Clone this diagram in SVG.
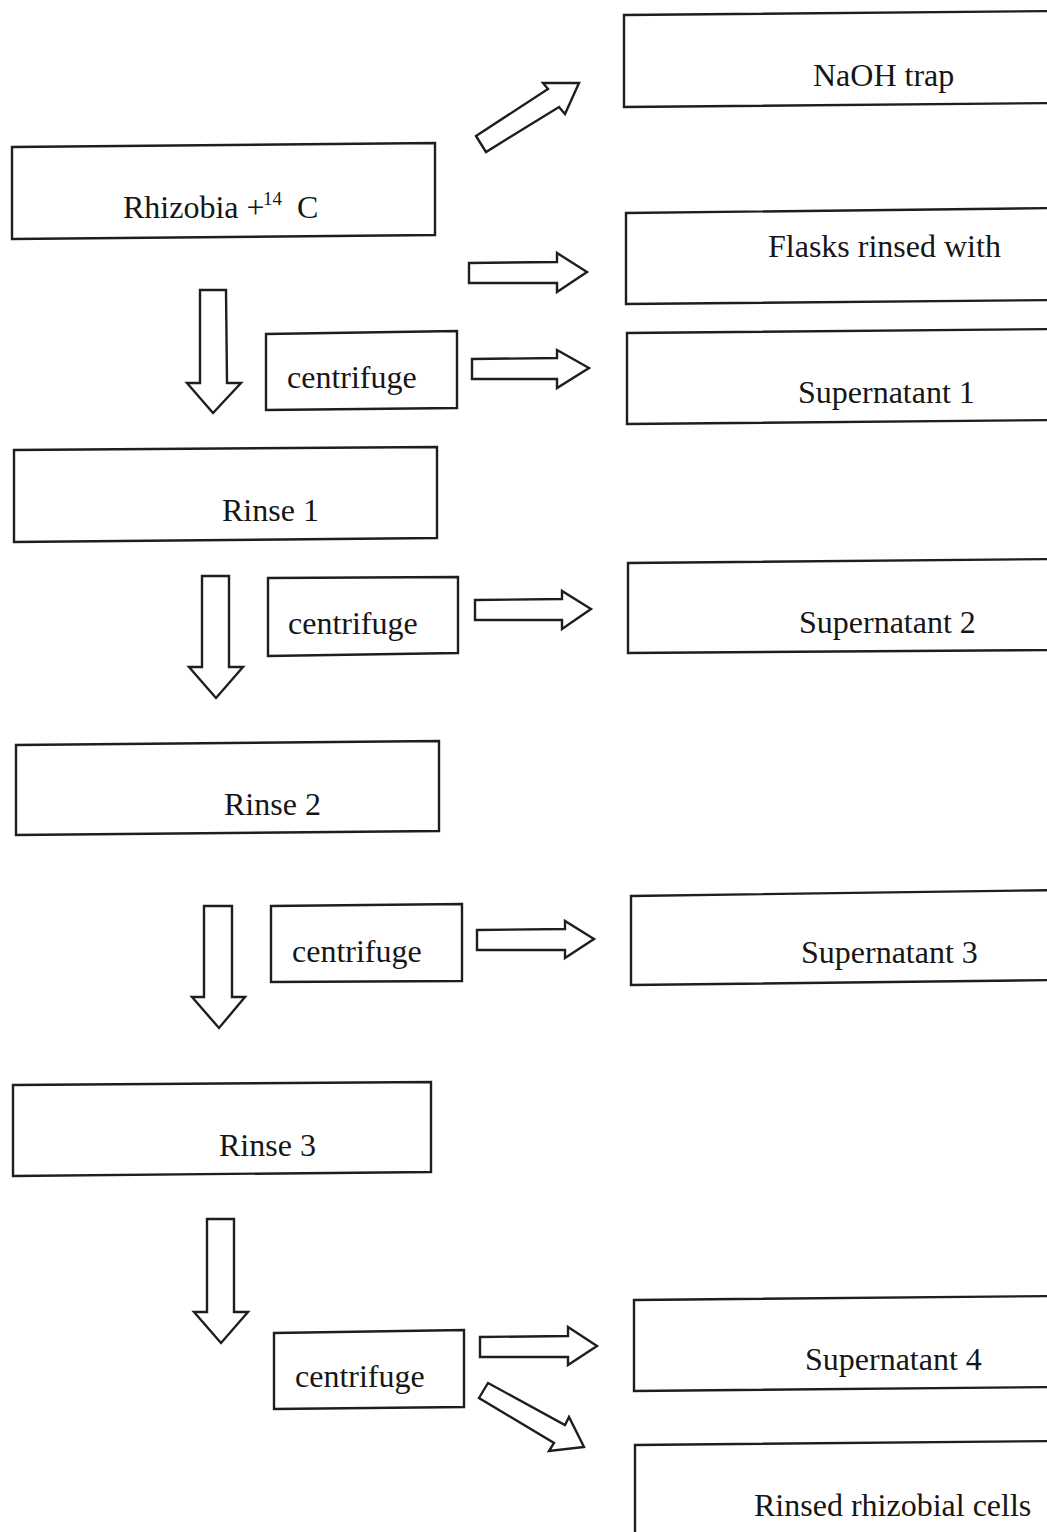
<svg xmlns="http://www.w3.org/2000/svg" width="1047" height="1532" viewBox="0 0 1047 1532">
  <style>
    .box { fill: #ffffff; stroke: #1e1e1e; stroke-width: 2.4; stroke-linejoin: miter; }
    .arrow { fill: #ffffff; stroke: #1e1e1e; stroke-width: 2.4; stroke-linejoin: miter; }
    .label { font-family: "Liberation Serif", "Times New Roman", serif; font-size: 32px; fill: #161616; }
    .sup { font-size: 19px; }
  </style>
  <rect x="0" y="0" width="1047" height="1532" fill="#ffffff"/>

  <!-- block arrows between steps -->
  <g id="connectors">
    <!-- source to NaOH trap (diagonal up) -->
    <polygon class="arrow" points="476,136 548,89 543,83 579,83 565,114 559,107 486,152"/>
    <!-- source to flask rinse -->
    <polygon class="arrow" points="469,263 557,262 557,253 587,272 557,292 557,283 469,283"/>
    <!-- downward flow -->
    <polygon class="arrow" points="200,290 226,290 227,383 241,383 213,413 187,383 200,383"/>
    <polygon class="arrow" points="202,576 229,576 229,667 243,667 216,698 189,667 202,667"/>
    <polygon class="arrow" points="204,906 232,906 232,997 245,997 219,1028 192,997 204,997"/>
    <polygon class="arrow" points="207,1219 234,1219 234,1312 248,1312 221,1343 194,1312 207,1312"/>
    <!-- centrifuge to supernatants -->
    <polygon class="arrow" points="472,359 557,358 557,350 589,368 557,388 557,379 472,379"/>
    <polygon class="arrow" points="475,600 562,599 562,591 591,609 562,629 562,620 475,620"/>
    <polygon class="arrow" points="477,930 565,929 565,921 594,939 565,958 565,950 477,950"/>
    <polygon class="arrow" points="480,1337 568,1336 568,1327 597,1346 568,1365 568,1357 480,1357"/>
    <!-- final centrifuge to rinsed cells (diagonal down) -->
    <polygon class="arrow" points="488,1383 565,1425 569,1417 584,1447 549,1451 554,1443 479,1398"/>
  </g>

  <g id="naoh-trap">
    <polygon class="box" points="624,15 1060,11 1060,103 624,107"/>
    <text class="label" x="813" y="86">NaOH trap</text>
  </g>

  <g id="rhizobia">
    <polygon class="box" points="12,147 435,143 435,235 12,239"/>
    <text class="label" x="123" y="218">Rhizobia +<tspan class="sup" x="263" y="205">14</tspan><tspan x="297" y="218">C</tspan></text>
  </g>

  <g id="flasks-rinsed">
    <polygon class="box" points="626,213 1060,208 1060,300 626,304"/>
    <text class="label" x="768" y="257">Flasks rinsed with</text>
  </g>

  <g id="centrifuge-1">
    <polygon class="box" points="266,334 457,331 457,408 266,410"/>
    <text class="label" x="287" y="388">centrifuge</text>
  </g>

  <g id="supernatant-1">
    <polygon class="box" points="627,333 1060,329 1060,420 627,424"/>
    <text class="label" x="798" y="403">Supernatant 1</text>
  </g>

  <g id="rinse-1">
    <polygon class="box" points="14,450 437,447 437,538 14,542"/>
    <text class="label" x="222" y="521">Rinse 1</text>
  </g>

  <g id="centrifuge-2">
    <polygon class="box" points="268,578 458,577 458,653 268,656"/>
    <text class="label" x="288" y="634">centrifuge</text>
  </g>

  <g id="supernatant-2">
    <polygon class="box" points="628,563 1060,559 1060,650 628,653"/>
    <text class="label" x="799" y="633">Supernatant 2</text>
  </g>

  <g id="rinse-2">
    <polygon class="box" points="16,745 439,741 439,831 16,835"/>
    <text class="label" x="224" y="815">Rinse 2</text>
  </g>

  <g id="centrifuge-3">
    <polygon class="box" points="271,906 462,904 462,981 271,982"/>
    <text class="label" x="292" y="962">centrifuge</text>
  </g>

  <g id="supernatant-3">
    <polygon class="box" points="631,896 1060,890 1060,980 631,985"/>
    <text class="label" x="801" y="963">Supernatant 3</text>
  </g>

  <g id="rinse-3">
    <polygon class="box" points="13,1085 431,1082 431,1172 13,1176"/>
    <text class="label" x="219" y="1156">Rinse 3</text>
  </g>

  <g id="centrifuge-4">
    <polygon class="box" points="274,1333 464,1330 464,1407 274,1409"/>
    <text class="label" x="295" y="1387">centrifuge</text>
  </g>

  <g id="supernatant-4">
    <polygon class="box" points="634,1300 1060,1296 1060,1387 634,1391"/>
    <text class="label" x="805" y="1370">Supernatant 4</text>
  </g>

  <g id="rinsed-cells">
    <polygon class="box" points="635,1445 1060,1441 1060,1545 635,1545"/>
    <text class="label" x="754" y="1516">Rinsed rhizobial cells</text>
  </g>
</svg>
